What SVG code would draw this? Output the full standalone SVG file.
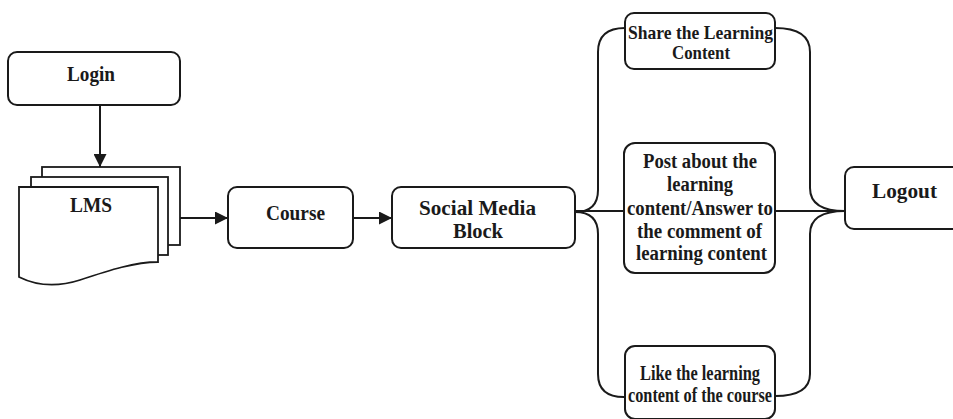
<svg xmlns="http://www.w3.org/2000/svg" width="953" height="419" viewBox="0 0 953 419">
<defs>
<style>
.box{fill:#fff;stroke:#1a1a1a;stroke-width:2}
.doc{fill:#fff;stroke:#1a1a1a;stroke-width:1.8}
.ln{fill:none;stroke:#1a1a1a;stroke-width:2}
text{font-family:"Liberation Serif","Times New Roman",serif;font-weight:bold;fill:#1a1a1a;text-anchor:middle}
.t22{font-size:22px}
.t20{font-size:20px}
.t19{font-size:19px}
</style>
<marker id="arrh" viewBox="0 0 12 12" refX="12" refY="6" markerWidth="13" markerHeight="13" markerUnits="userSpaceOnUse" orient="auto">
<path d="M0,0 L12,6 L0,12 Z" fill="#1a1a1a"/>
</marker>
</defs>
<rect width="953" height="419" fill="#fff"/>
<g id="connectors">
<line class="ln" x1="100" y1="105" x2="100" y2="167" marker-end="url(#arrh)"/>
<line class="ln" x1="180" y1="218" x2="228" y2="218" marker-end="url(#arrh)"/>
<line class="ln" x1="353" y1="218" x2="392" y2="218" marker-end="url(#arrh)"/>
<path class="ln" d="M575,212 Q598,212 598,190 L598,52 Q598,28 625,28"/>
<path class="ln" d="M575,212 Q598,212 598,234 L598,374 Q598,397 624,397"/>
<path class="ln" d="M575,211 L624,211"/>
<path class="ln" d="M775,28 Q810,28 810,52 L810,188 Q810,211 845,211"/>
<path class="ln" d="M775,396 Q810,396 810,374 L810,234 Q810,211 845,211"/>
<path class="ln" d="M775,211 L845,211"/>
</g>
<g id="login">
<rect class="box" x="8" y="52" width="172" height="53" rx="9"/>
<text class="t22" x="91" y="81" textLength="48" lengthAdjust="spacingAndGlyphs">Login</text>
</g>
<g id="lms">
<rect class="doc" x="42" y="167" width="138" height="78"/>
<rect class="doc" x="31" y="177" width="137" height="78"/>
<path class="doc" d="M19,187 L158,187 L158,262 C135,262 110,270 80,280 C55,288 35,285 19,277 Z"/>
<text class="t22" x="91" y="212" textLength="42" lengthAdjust="spacingAndGlyphs">LMS</text>
</g>
<g id="course">
<rect class="box" x="228" y="187" width="125" height="61" rx="9"/>
<text class="t22" x="295.5" y="220" textLength="59" lengthAdjust="spacingAndGlyphs">Course</text>
</g>
<g id="social">
<rect class="box" x="392" y="187" width="183" height="61" rx="9"/>
<text class="t22" x="477.5" y="215" textLength="117" lengthAdjust="spacingAndGlyphs">Social Media</text>
<text class="t22" x="478" y="238" textLength="50" lengthAdjust="spacingAndGlyphs">Block</text>
</g>
<g id="share">
<rect class="box" x="625" y="13" width="150" height="56" rx="9"/>
<text class="t19" x="700.5" y="39" textLength="145" lengthAdjust="spacingAndGlyphs">Share the Learning</text>
<text class="t19" x="701" y="59" textLength="58" lengthAdjust="spacingAndGlyphs">Content</text>
</g>
<g id="post">
<rect class="box" x="624" y="143" width="151" height="130" rx="11"/>
<text class="t20" x="700" y="168" textLength="114" lengthAdjust="spacingAndGlyphs">Post about the</text>
<text class="t20" x="700" y="191" textLength="66" lengthAdjust="spacingAndGlyphs">learning</text>
<text class="t20" x="700" y="215" textLength="146" lengthAdjust="spacingAndGlyphs">content/Answer to</text>
<text class="t20" x="699.5" y="238" textLength="125" lengthAdjust="spacingAndGlyphs">the comment of</text>
<text class="t20" x="701.5" y="260" textLength="131" lengthAdjust="spacingAndGlyphs">learning content</text>
</g>
<g id="like">
<rect class="box" x="625" y="346" width="150" height="73" rx="10"/>
<text class="t20" x="700" y="380" textLength="120" lengthAdjust="spacingAndGlyphs">Like the learning</text>
<text class="t20" x="700" y="402" textLength="144" lengthAdjust="spacingAndGlyphs">content of the course</text>
</g>
<g id="logout">
<rect class="box" x="845" y="167" width="130" height="62" rx="9"/>
<text class="t22" x="904.5" y="198" textLength="65" lengthAdjust="spacingAndGlyphs">Logout</text>
</g>
</svg>
